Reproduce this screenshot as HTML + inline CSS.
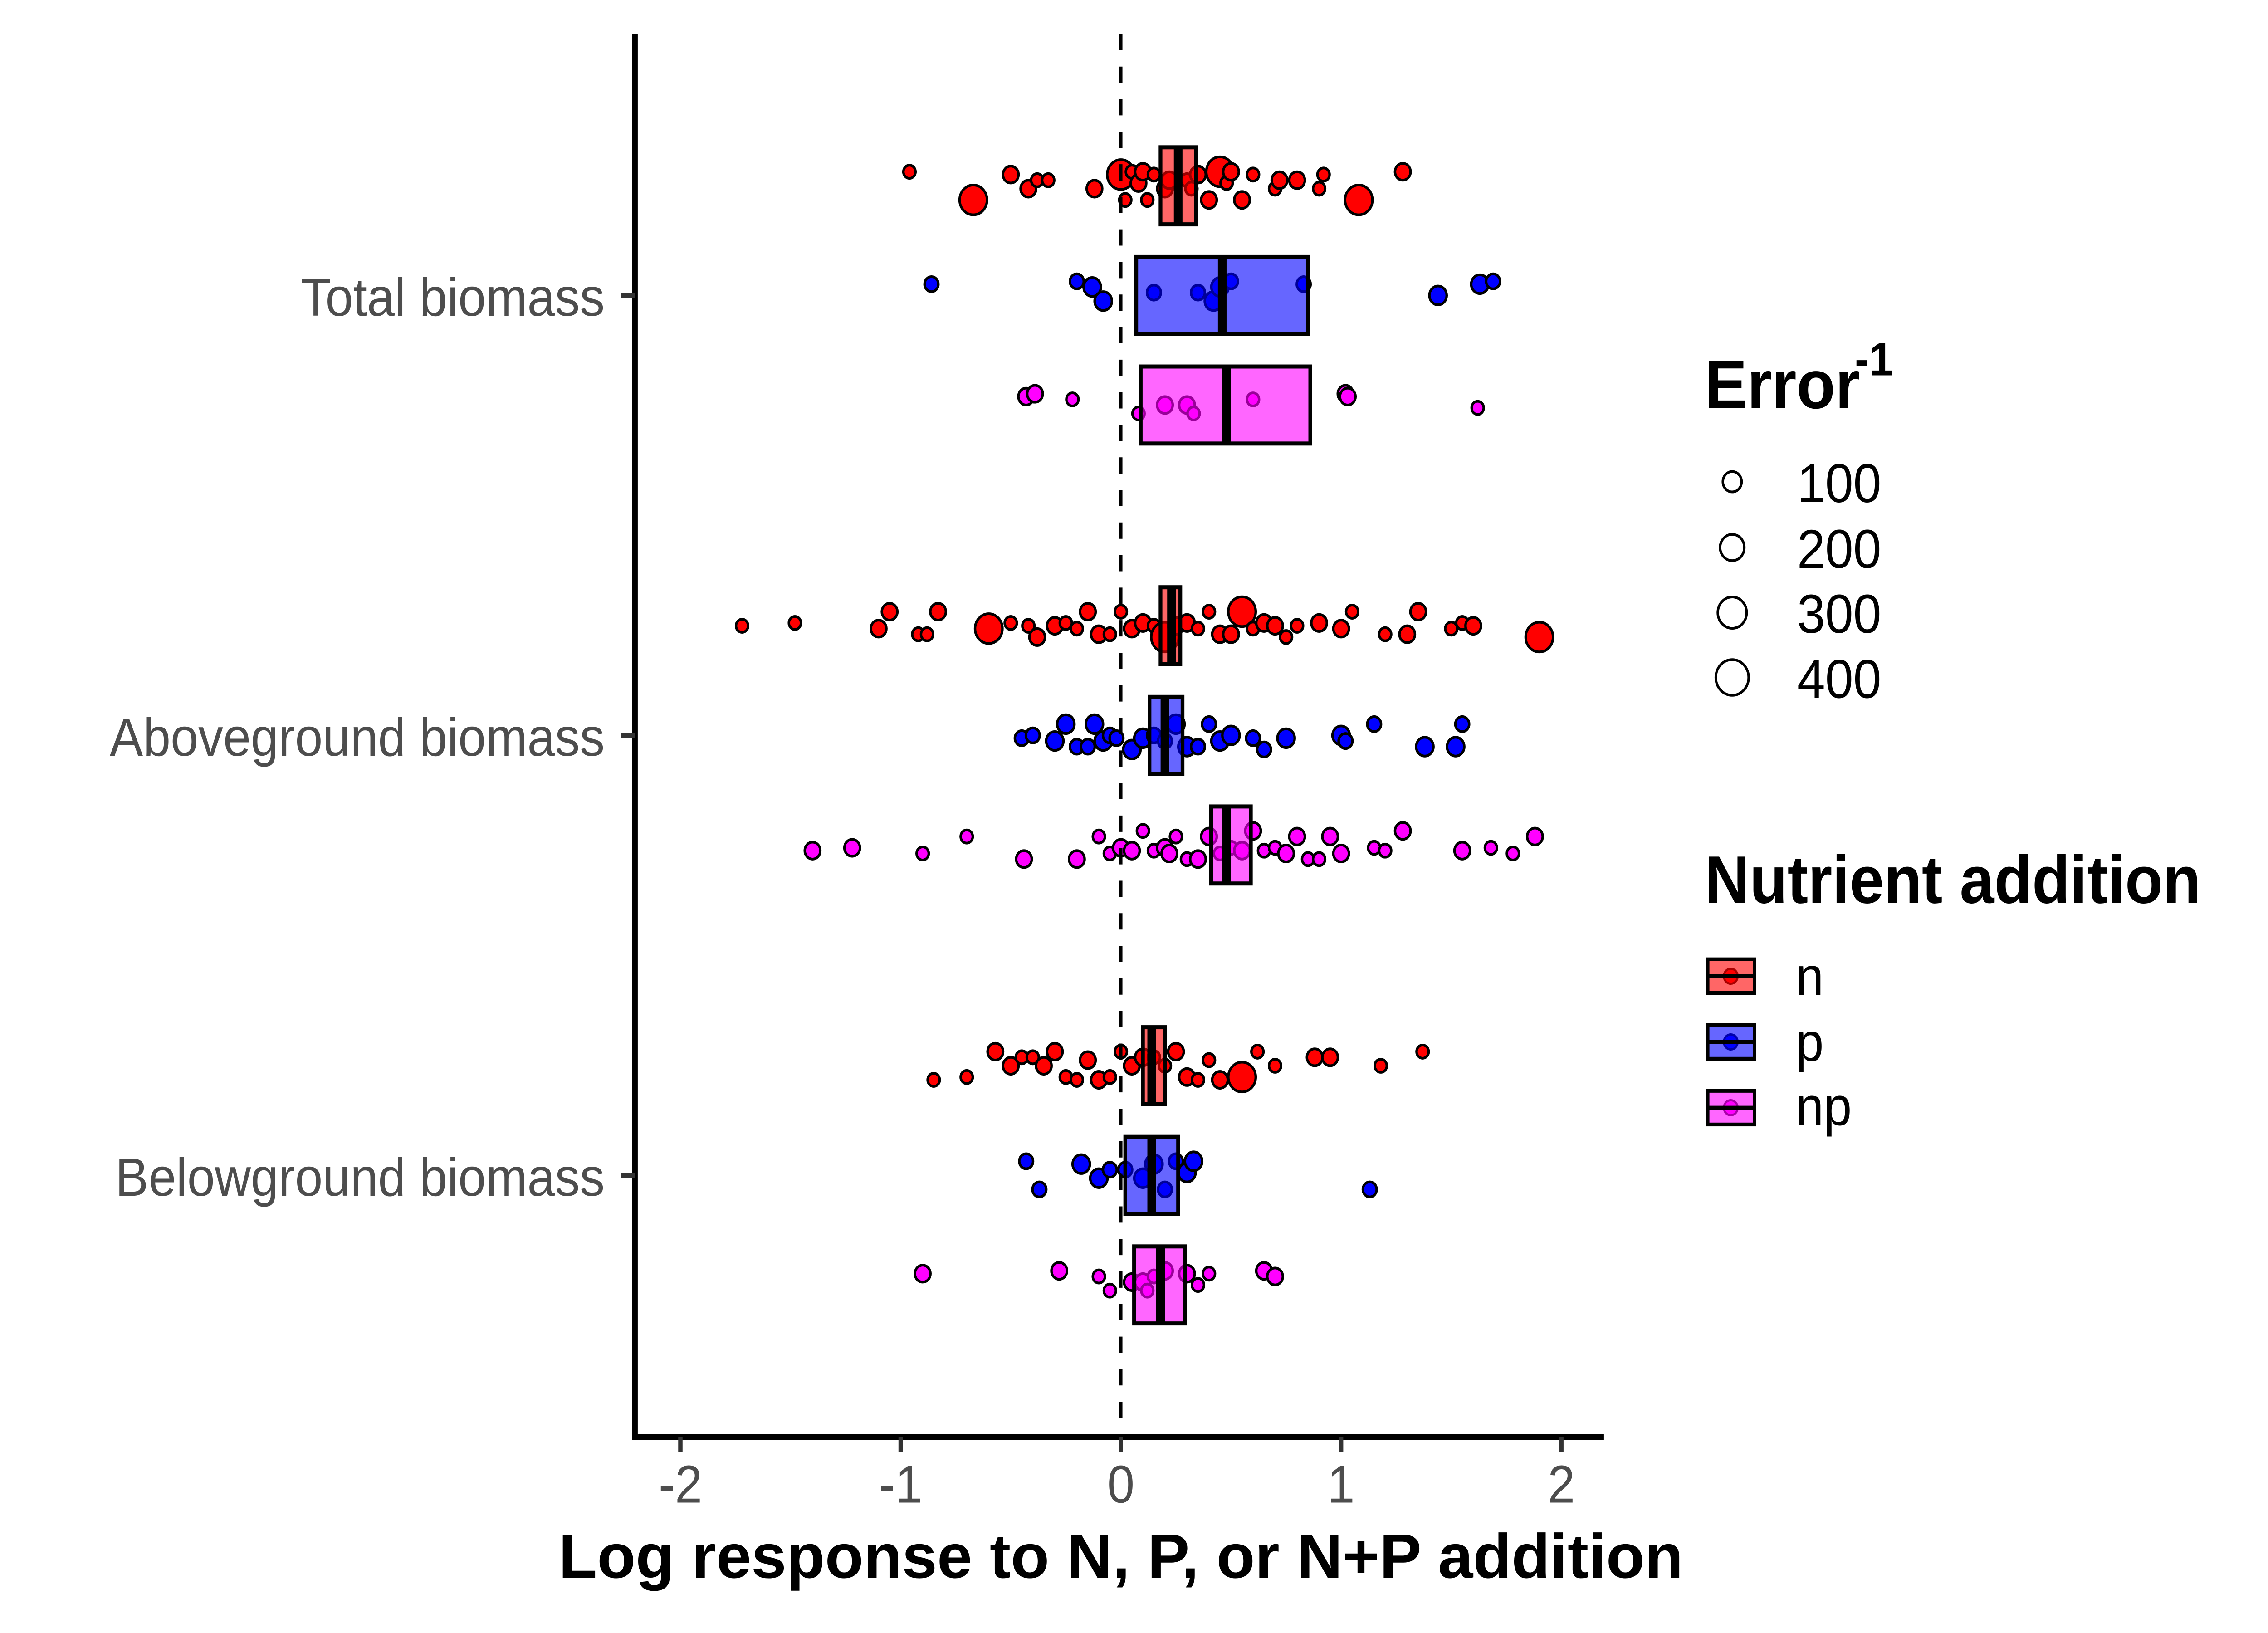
<!DOCTYPE html>
<html><head><meta charset="utf-8"><style>
html,body{margin:0;padding:0;background:#fff;width:100%;height:100%;overflow:hidden;}
svg{display:block;width:100vw;height:100vh;}
text{font-family:"Liberation Sans",Arial,sans-serif;}
</style></head><body>
<svg id="chart" viewBox="-2.4 0.3 1573 1043" preserveAspectRatio="none" xmlns="http://www.w3.org/2000/svg">
<g id="points"></g>
<g id="boxes"></g>
<g id="axes"></g>
<g id="legend">
  <text x="1180" y="261" font-size="44" font-weight="bold">Error</text>
  <text x="1284" y="240" font-size="30" font-weight="bold">-1</text>
  <circle cx="1199" cy="308" r="6.5" fill="none" stroke="#000" stroke-width="1.7"/>
  <circle cx="1199" cy="350" r="8.4" fill="none" stroke="#000" stroke-width="1.7"/>
  <circle cx="1199" cy="391.6" r="10" fill="none" stroke="#000" stroke-width="1.7"/>
  <circle cx="1199" cy="433" r="11.4" fill="none" stroke="#000" stroke-width="1.7"/>
  <text x="1244" y="321" font-size="35">100</text>
  <text x="1244" y="363" font-size="35">200</text>
  <text x="1244" y="404.5" font-size="35">300</text>
  <text x="1244" y="446" font-size="35">400</text>
  <text x="1180" y="577" font-size="43" font-weight="bold" textLength="344" lengthAdjust="spacingAndGlyphs">Nutrient addition</text>
  <g>
    <rect x="1182" y="613" width="32.5" height="21.5" fill="rgba(255,0,0,0.6)" stroke="#000" stroke-width="2.4"/>
    <circle cx="1198" cy="623.8" r="4.8" fill="#f00" stroke="#a00" stroke-width="1.4"/>
    <line x1="1182" y1="623.8" x2="1214.5" y2="623.8" stroke="#000" stroke-width="2.5"/>
    <text x="1243" y="636" font-size="35">n</text>
  </g>
  <g>
    <rect x="1182" y="655" width="32.5" height="21.5" fill="rgba(0,0,255,0.6)" stroke="#000" stroke-width="2.4"/>
    <circle cx="1198" cy="665.8" r="4.8" fill="#00f" stroke="#00a" stroke-width="1.4"/>
    <line x1="1182" y1="665.8" x2="1214.5" y2="665.8" stroke="#000" stroke-width="2.5"/>
    <text x="1243" y="678" font-size="35">p</text>
  </g>
  <g>
    <rect x="1182" y="697" width="32.5" height="21.5" fill="rgba(255,0,255,0.6)" stroke="#000" stroke-width="2.4"/>
    <circle cx="1198" cy="707.8" r="4.8" fill="#f0f" stroke="#a0a" stroke-width="1.4"/>
    <line x1="1182" y1="707.8" x2="1214.5" y2="707.8" stroke="#000" stroke-width="2.5"/>
    <text x="1243" y="719" font-size="35">np</text>
  </g>
</g>
</svg>
<script>
const categories = ["Total biomass","Aboveground biomass","Belowground biomass"];
const treatments = ["n","p","np"];
const xTicks = [-2,-1,0,1,2];
// box stats [lower, median, upper] per category x treatment
const boxTotal = [[0.18,0.26,0.34],[0.07,0.46,0.85],[0.09,0.48,0.86]];
const boxAbove = [[0.18,0.23,0.27],[0.13,0.20,0.28],[0.41,0.48,0.59]];
const boxBelow = [[0.10,0.14,0.20],[0.02,0.14,0.26],[0.06,0.18,0.29]];
// point values
const ptsTotalN = [-0.96,-0.67,-0.5,-0.42,-0.38,-0.33,-0.12,0,0.02,0.05,0.08,0.1,0.12,0.15,0.2,0.22,0.3,0.32,0.35,0.4,0.45,0.48,0.5,0.55,0.6,0.7,0.72,0.8,0.9,0.92,1.08,1.28];
const ptsTotalP = [-0.86,-0.2,-0.13,-0.08,0.15,0.35,0.42,0.45,0.5,0.83,1.44,1.63,1.69];
const ptsTotalNP = [-0.43,-0.39,-0.22,0.08,0.2,0.3,0.33,0.6,1.02,1.03,1.62];
const ptsAboveN = [-1.72,-1.48,-1.1,-1.05,-0.92,-0.88,-0.83,-0.6,-0.5,-0.42,-0.38,-0.3,-0.25,-0.2,-0.15,-0.1,-0.05,0,0.05,0.1,0.15,0.2,0.25,0.3,0.35,0.4,0.45,0.5,0.55,0.6,0.65,0.7,0.75,0.8,0.9,1.0,1.05,1.2,1.3,1.35,1.5,1.55,1.6,1.9];
const ptsAboveP = [-0.45,-0.4,-0.3,-0.25,-0.2,-0.15,-0.12,-0.08,-0.05,-0.02,0.05,0.1,0.15,0.2,0.25,0.3,0.35,0.4,0.45,0.5,0.6,0.65,0.75,1.0,1.02,1.15,1.38,1.52,1.55];
const ptsAboveNP = [-1.4,-1.22,-0.9,-0.7,-0.44,-0.2,-0.1,-0.05,0,0.05,0.1,0.15,0.2,0.22,0.25,0.3,0.35,0.4,0.45,0.5,0.55,0.6,0.65,0.7,0.75,0.8,0.85,0.9,0.95,1.0,1.15,1.2,1.28,1.55,1.68,1.78,1.88];
const ptsBelowN = [-0.85,-0.7,-0.57,-0.5,-0.45,-0.4,-0.35,-0.3,-0.25,-0.2,-0.15,-0.1,-0.05,0,0.05,0.1,0.15,0.2,0.25,0.3,0.35,0.4,0.45,0.55,0.62,0.7,0.88,0.95,1.18,1.37];
const ptsBelowP = [-0.43,-0.37,-0.18,-0.1,-0.05,0.02,0.1,0.15,0.2,0.25,0.3,0.33,1.13];
const ptsBelowNP = [-0.9,-0.28,-0.1,-0.05,0.05,0.1,0.12,0.15,0.2,0.3,0.35,0.4,0.65,0.7];
// large-weight points
const bigTotalN = [0,0.45,1.08,-0.67];
const bigAboveN = [0.2,0.55,-0.6,1.9];
const bigBelowN = [0.55];

const NS="http://www.w3.org/2000/svg";
const X0=775, UNIT=152.75;
function xs(v){return X0+v*UNIT;}
const catY=[189,470,751], OFF=70, HALF=24.6;
function ys(ci,ti){return catY[ci]+(ti-1)*OFF;}
const fills=["#ff0000","#0000ff","#ff00ff"];
function mk(tag,attrs,parent){const e=document.createElementNS(NS,tag);for(const k in attrs)e.setAttribute(k,attrs[k]);parent.appendChild(e);return e;}

const pts=[[ptsTotalN,ptsTotalP,ptsTotalNP],[ptsAboveN,ptsAboveP,ptsAboveNP],[ptsBelowN,ptsBelowP,ptsBelowNP]];
const bigs=[[bigTotalN,[],[]],[bigAboveN,[],[]],[bigBelowN,[],[]]];
const boxes=[boxTotal,boxAbove,boxBelow];
const gP=document.getElementById('points'), gB=document.getElementById('boxes'), gA=document.getElementById('axes');

pts.forEach((grp,ci)=>grp.forEach((arr,ti)=>{
  arr.forEach((v,i)=>{
    const j=((i*i*7+i*3+ci*5+ti)%11-5)*1.8;
    const big=bigs[ci][ti].includes(v);
    const r=big?9.5:(4.2+((i*i+i*3+ti)%4)*0.6);
    const c=mk('circle',{cx:xs(v),cy:ys(ci,ti)+j,r:r,fill:fills[ti],stroke:'#000','stroke-width':1.7},gP);
    
    
  });
}));

boxes.forEach((grp,ci)=>grp.forEach((b,ti)=>{
  const y=ys(ci,ti);
  const g=mk('g',{},gB);
  
  
  mk('rect',{x:xs(b[0]),y:y-HALF,width:xs(b[2])-xs(b[0]),height:2*HALF,fill:fills[ti],'fill-opacity':0.6,stroke:'#000','stroke-width':2.6},g);
  mk('line',{x1:xs(b[1]),x2:xs(b[1]),y1:y-HALF,y2:y+HALF,stroke:'#000','stroke-width':6},g);
}));

const zl=mk('line',{x1:X0,x2:X0,y1:22,y2:918,stroke:'#000','stroke-width':2.2,'stroke-dasharray':'10.4,10.4'},gA);


const xa=mk('line',{x1:436,x2:1110,y1:918,y2:918,stroke:'#000','stroke-width':3.8},gA);


const ya=mk('line',{x1:438,x2:438,y1:22,y2:920,stroke:'#000','stroke-width':3.8},gA);


xTicks.forEach(t=>{
  mk('line',{x1:xs(t),x2:xs(t),y1:918,y2:928,stroke:'#333','stroke-width':3},gA);
  const tx=mk('text',{x:xs(t),y:960,'font-size':34,fill:'#4d4d4d','text-anchor':'middle'},gA);
  tx.textContent=String(t);
  
  
});
categories.forEach((c,ci)=>{
  mk('line',{x1:428,x2:438,y1:catY[ci],y2:catY[ci],stroke:'#333','stroke-width':3},gA);
  const tx=mk('text',{x:417,y:catY[ci]+13,'font-size':34.5,fill:'#4d4d4d','text-anchor':'end'},gA);
  tx.textContent=c;
  
  
});
const xt=mk('text',{x:385,y:1008,'font-size':40,'font-weight':'bold',textLength:780,lengthAdjust:'spacingAndGlyphs'},gA);
xt.textContent='Log response to N, P, or N+P addition';


</script>
</body></html>
